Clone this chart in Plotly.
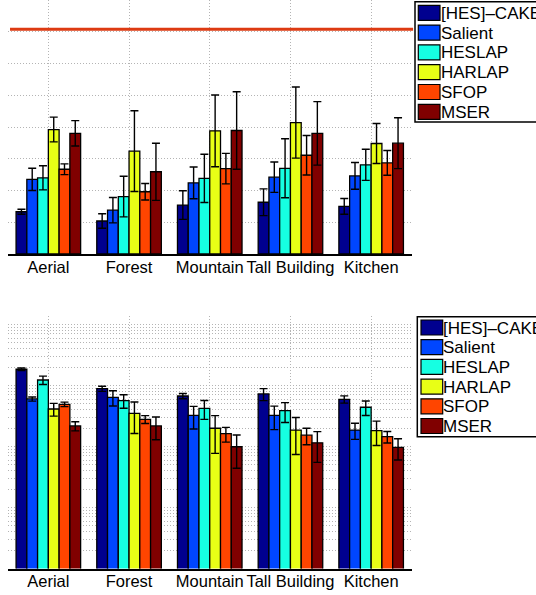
import plotly.graph_objects as go

# ---------------- data ----------------
categories = ["Aerial", "Forest", "Mountain", "Tall Building", "Kitchen"]
methods = ["[HES]\u2013CAKE", "Salient", "HESLAP", "HARLAP", "SFOP", "MSER"]
colors = ["#00008f", "#0046ff", "#16ffe2", "#e8ff16", "#ff4500", "#800000"]

# top panel (linear scale)
top_hes_cake = [13.3, 10.4, 15.4, 16.3, 15.0]
top_salient = [23.5, 13.8, 22.4, 24.2, 24.6]
top_heslap = [24.0, 18.1, 23.8, 27.0, 28.1]
top_harlap = [39.2, 32.4, 38.8, 41.4, 34.8]
top_sfop = [26.7, 19.6, 26.9, 31.1, 28.7]
top_mser = [38.0, 25.9, 38.9, 38.0, 34.9]

top_err_hes_cake = [0.8, 2.3, 4.5, 4.2, 2.5]
top_err_salient = [3.5, 4.0, 5.0, 4.8, 4.2]
top_err_heslap = [3.8, 6.4, 7.6, 9.3, 4.9]
top_err_harlap = [3.9, 12.7, 11.3, 11.2, 6.3]
top_err_sfop = [1.7, 2.6, 4.8, 6.2, 3.9]
top_err_mser = [4.0, 9.0, 12.2, 10.0, 8.0]

reference_line = 70.8

# bottom panel (log scale)
bot_hes_cake = [1845, 887, 673, 726, 594]
bot_salient = [601, 640, 324, 324, 186]
bot_heslap = [1230, 564, 423, 386, 440]
bot_harlap = [412, 350, 199, 186, 182]
bot_sfop = [492, 279, 162, 153, 145]
bot_mser = [217, 217, 99, 115, 97]

bot_err_hes_cake = [92, 85, 68, 161, 81]
bot_err_salient = [47, 180, 131, 135, 55]
bot_err_heslap = [195, 140, 145, 138, 118]
bot_err_harlap = [97, 187, 122, 112, 78]
bot_err_sfop = [41, 41, 44, 46, 31]
bot_err_mser = [37, 88, 55, 60, 37]

top_values = [top_hes_cake, top_salient, top_heslap, top_harlap, top_sfop, top_mser]
top_errors = [top_err_hes_cake, top_err_salient, top_err_heslap, top_err_harlap, top_err_sfop, top_err_mser]
bot_values = [bot_hes_cake, bot_salient, bot_heslap, bot_harlap, bot_sfop, bot_mser]
bot_errors = [bot_err_hes_cake, bot_err_salient, bot_err_heslap, bot_err_harlap, bot_err_sfop, bot_err_mser]

# ---------------- layout helpers ----------------
W, H = 536, 595
FONT = "Liberation Sans, Arial, Helvetica, sans-serif"


def px_x(x):
    return x / W


def px_y(y):
    return 1 - y / H


fig = go.Figure()

for name, color, vals, errs in zip(methods, colors, top_values, top_errors):
    fig.add_trace(go.Bar(
        x=categories, y=vals, name=name, xaxis="x", yaxis="y",
        marker=dict(color=color, line=dict(color="black", width=1.3)),
        error_y=dict(type="data", array=errs, color="black", thickness=1.4, width=4),
        showlegend=False,
    ))

for name, color, vals, errs in zip(methods, colors, bot_values, bot_errors):
    fig.add_trace(go.Bar(
        x=categories, y=vals, name=name, xaxis="x2", yaxis="y2",
        marker=dict(color=color, line=dict(color="black", width=1.3)),
        error_y=dict(type="data", array=errs, color="black", thickness=1.4, width=4),
        showlegend=False,
    ))

grid_v = dict(showgrid=True, gridcolor="#b4b4b4", gridwidth=1, griddash="1px,2px")
xcommon = dict(
    type="category", range=[-0.5, 4.5], showline=True, linecolor="black",
    linewidth=1.5, ticks="", tickfont=dict(family=FONT, size=16.5, color="black"),
    ticklabelstandoff=-3,
    zeroline=False, automargin=False, **grid_v,
)

shapes = []
annotations = []

# reference line in the top panel
shapes.append(dict(type="line", xref="x domain", yref="y", x0=0.005, x1=1.004,
                   y0=reference_line, y1=reference_line,
                   line=dict(color="#dd3a12", width=3), layer="above"))


def add_legend(box_x0, box_y0, box_y1, sw_x0, sw_x1, row_y0, row_step, sw_h):
    shapes.append(dict(type="rect", xref="paper", yref="paper",
                       x0=px_x(box_x0), x1=px_x(W + 10), y0=px_y(box_y1), y1=px_y(box_y0),
                       line=dict(color="black", width=1.5), fillcolor="white", layer="above"))
    for i, (name, color) in enumerate(zip(methods, colors)):
        cy = row_y0 + i * row_step
        shapes.append(dict(type="rect", xref="paper", yref="paper",
                           x0=px_x(sw_x0), x1=px_x(sw_x1),
                           y0=px_y(cy + sw_h / 2), y1=px_y(cy - sw_h / 2),
                           line=dict(color="black", width=1.2), fillcolor=color, layer="above"))
        annotations.append(dict(text=name, xref="paper", yref="paper",
                                x=px_x(sw_x1 - 1.5), y=px_y(cy + 0.5), xanchor="left", yanchor="middle",
                                showarrow=False, font=dict(family=FONT, size=17, color="black")))


add_legend(415, 1.7, 122, 418.3, 440, 12.8, 19.8, 15)
add_legend(417.3, 316.7, 436.7, 421, 442.7, 327.5, 19.7, 15)

fig.update_layout(
    width=W, height=H,
    margin=dict(l=0, r=0, t=0, b=0),
    paper_bgcolor="white", plot_bgcolor="white",
    barmode="group", bargap=0.2, bargroupgap=0.0,
    showlegend=False,
    font=dict(family=FONT, size=16, color="black"),
    xaxis=dict(domain=[px_x(8), px_x(411.5)], anchor="y", **xcommon),
    yaxis=dict(domain=[px_y(254), 1.0], anchor="x", range=[0, 80], dtick=10,
               showticklabels=False, ticks="", zeroline=False, showline=False,
               **grid_v),
    xaxis2=dict(domain=[px_x(8), px_x(411.5)], anchor="y2", **xcommon),
    yaxis2=dict(domain=[px_y(568.5), px_y(316)], anchor="x2", type="log",
                range=[0, 4.139], dtick=1, showticklabels=False, ticks="",
                zeroline=False, showline=False, **grid_v,
                minor=dict(dtick="D1", showgrid=True, gridcolor="#b4b4b4",
                           griddash="1px,2px", gridwidth=1, ticks="")),
    shapes=shapes,
    annotations=annotations,
)

fig.write_html(
    "out.html",
    config={"displayModeBar": False},
    post_script="document.body.style.margin='0';document.body.style.overflow='hidden';",
)
